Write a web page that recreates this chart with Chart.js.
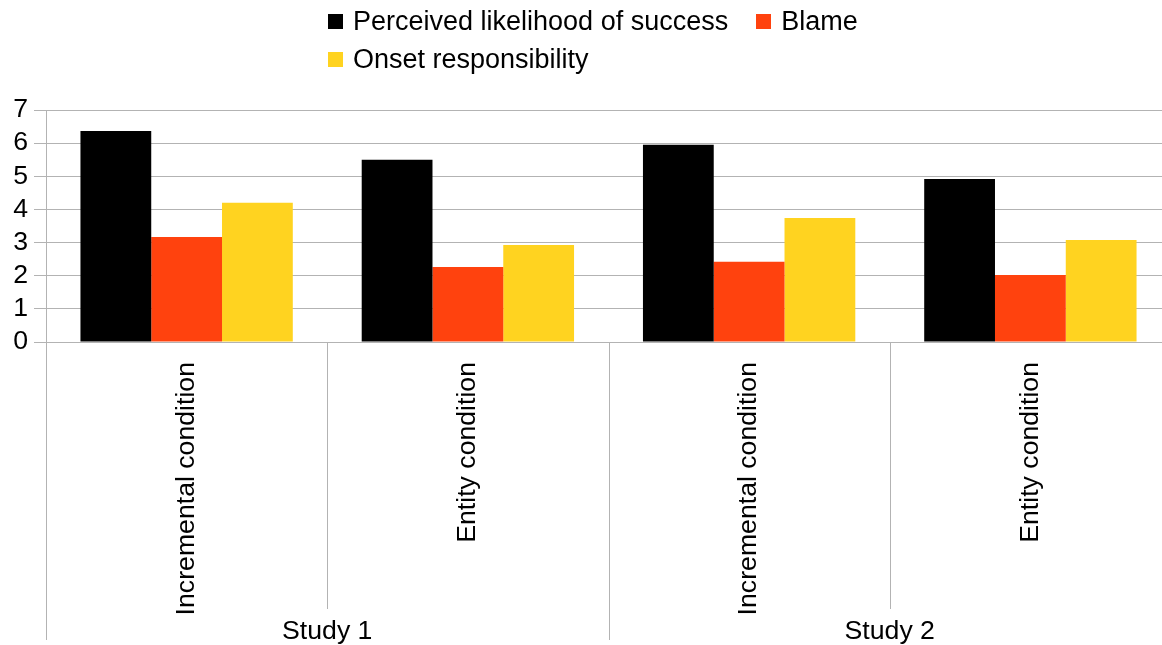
<!DOCTYPE html>
<html>
<head>
<meta charset="utf-8">
<title>Study 1 and Study 2: likelihood of success, blame and onset responsibility</title>
<script src="https://cdn.jsdelivr.net/npm/chart.js@4/dist/chart.umd.min.js"></script>
<style>
  html, body { margin: 0; padding: 0; background: #fff; overflow: hidden; }
  #wrap { position: relative; width: 1162px; height: 645px; overflow: hidden; }
  #chart { position: absolute; left: 0; top: 0; }
  #legend {
    position: absolute; left: 328px; top: 6px; width: 570px;
    display: flex; flex-wrap: wrap; row-gap: 8px;
    font-family: "Liberation Sans", Arial, sans-serif; font-size: 27px; color: #000;
  }
  .item { display: flex; align-items: center; height: 30px; margin-right: 28px; white-space: nowrap; }
  .swatch { width: 15px; height: 15px; margin-right: 10px; flex: none; }
</style>
</head>
<body>
<div id="wrap">
  <canvas id="chart" width="1171" height="645"></canvas>
  <div id="legend"></div>
</div>
<script>
// Conditions (one bar group each) and the study each pair belongs to
const conditions = ['Incremental condition', 'Entity condition', 'Incremental condition', 'Entity condition'];
const studies = ['Study 1', 'Study 2'];

// Series names and mean ratings per condition
const seriesNames = ['Perceived likelihood of success', 'Blame', 'Onset responsibility'];
const likelihood = [6.37, 5.50, 5.95, 4.92];
const blame = [3.17, 2.26, 2.42, 2.02];
const onset = [4.20, 2.93, 3.74, 3.08];

// Value axis ticks
const yTicks = [0, 1, 2, 3, 4, 5, 6, 7];

const colors = ['#000000', '#ff420e', '#ffd320'];
const gridColor = '#b3b3b3';
const font = { family: '"Liberation Sans", Arial, sans-serif', size: 26.67 };

Chart.defaults.font.family = font.family;
Chart.defaults.color = '#000';

// Vertical separators between conditions; study boundaries run down past the study labels
const separators = {
  id: 'separators',
  afterDraw(chart) {
    const xs = chart.scales.x, xs2 = chart.scales.x2, ctx = chart.ctx;
    const n = xs.getLabels().length;
    const step = (xs.right - xs.left) / n;
    ctx.save();
    ctx.strokeStyle = gridColor;
    ctx.lineWidth = 1;
    for (let i = 0; i < n; i++) {
      const px = Math.round(xs.left + i * step) + 0.5;
      const studyEdge = i % 2 === 0;
      const yEnd = studyEdge ? xs2.bottom - 5 : xs.top + 267;
      ctx.beginPath();
      ctx.moveTo(px, xs.top);
      ctx.lineTo(px, yEnd);
      ctx.stroke();
    }
    ctx.restore();
  }
};

const chart = new Chart(document.getElementById('chart'), {
  type: 'bar',
  data: {
    labels: conditions,
    datasets: [
      { label: seriesNames[0], data: likelihood, backgroundColor: colors[0] },
      { label: seriesNames[1], data: blame, backgroundColor: colors[1] },
      { label: seriesNames[2], data: onset, backgroundColor: colors[2] }
    ]
  },
  options: {
    responsive: false,
    animation: false,
    layout: { padding: { top: 110, left: 0, right: 0, bottom: 0 } },
    datasets: { bar: { categoryPercentage: 0.755, barPercentage: 1.0, borderWidth: 0 } },
    plugins: { legend: { display: false }, tooltip: { enabled: false } },
    scales: {
      x: {
        offset: true,
        grid: { display: false, drawTicks: false },
        border: { display: false },
        ticks: { font, color: '#000', minRotation: 90, maxRotation: 90, autoSkip: false, padding: 20 },
        afterFit(s) { s.height = 274; }
      },
      x2: {
        type: 'category',
        labels: studies,
        position: 'bottom',
        weight: 1,
        offset: true,
        grid: { display: false, drawTicks: false },
        border: { display: false },
        ticks: { font, color: '#000', padding: 0, maxRotation: 0, autoSkip: false },
        afterFit(s) { s.height = 29; }
      },
      y: {
        min: 0,
        max: 7,
        afterBuildTicks(s) { s.ticks = yTicks.map(v => ({ value: v })); },
        grid: { color: gridColor, tickLength: 12, drawTicks: true },
        border: { display: true, color: gridColor },
        ticks: { font, color: '#000', padding: 6, autoSkip: false },
        afterFit(s) { s.width = 46; }
      }
    }
  },
  plugins: [separators]
});

// Legend built from the chart's own datasets
const legendEl = document.getElementById('legend');
chart.data.datasets.forEach(ds => {
  const item = document.createElement('div');
  item.className = 'item';
  const sw = document.createElement('span');
  sw.className = 'swatch';
  sw.style.background = ds.backgroundColor;
  const txt = document.createElement('span');
  txt.textContent = ds.label;
  item.appendChild(sw);
  item.appendChild(txt);
  legendEl.appendChild(item);
});
</script>
</body>
</html>
